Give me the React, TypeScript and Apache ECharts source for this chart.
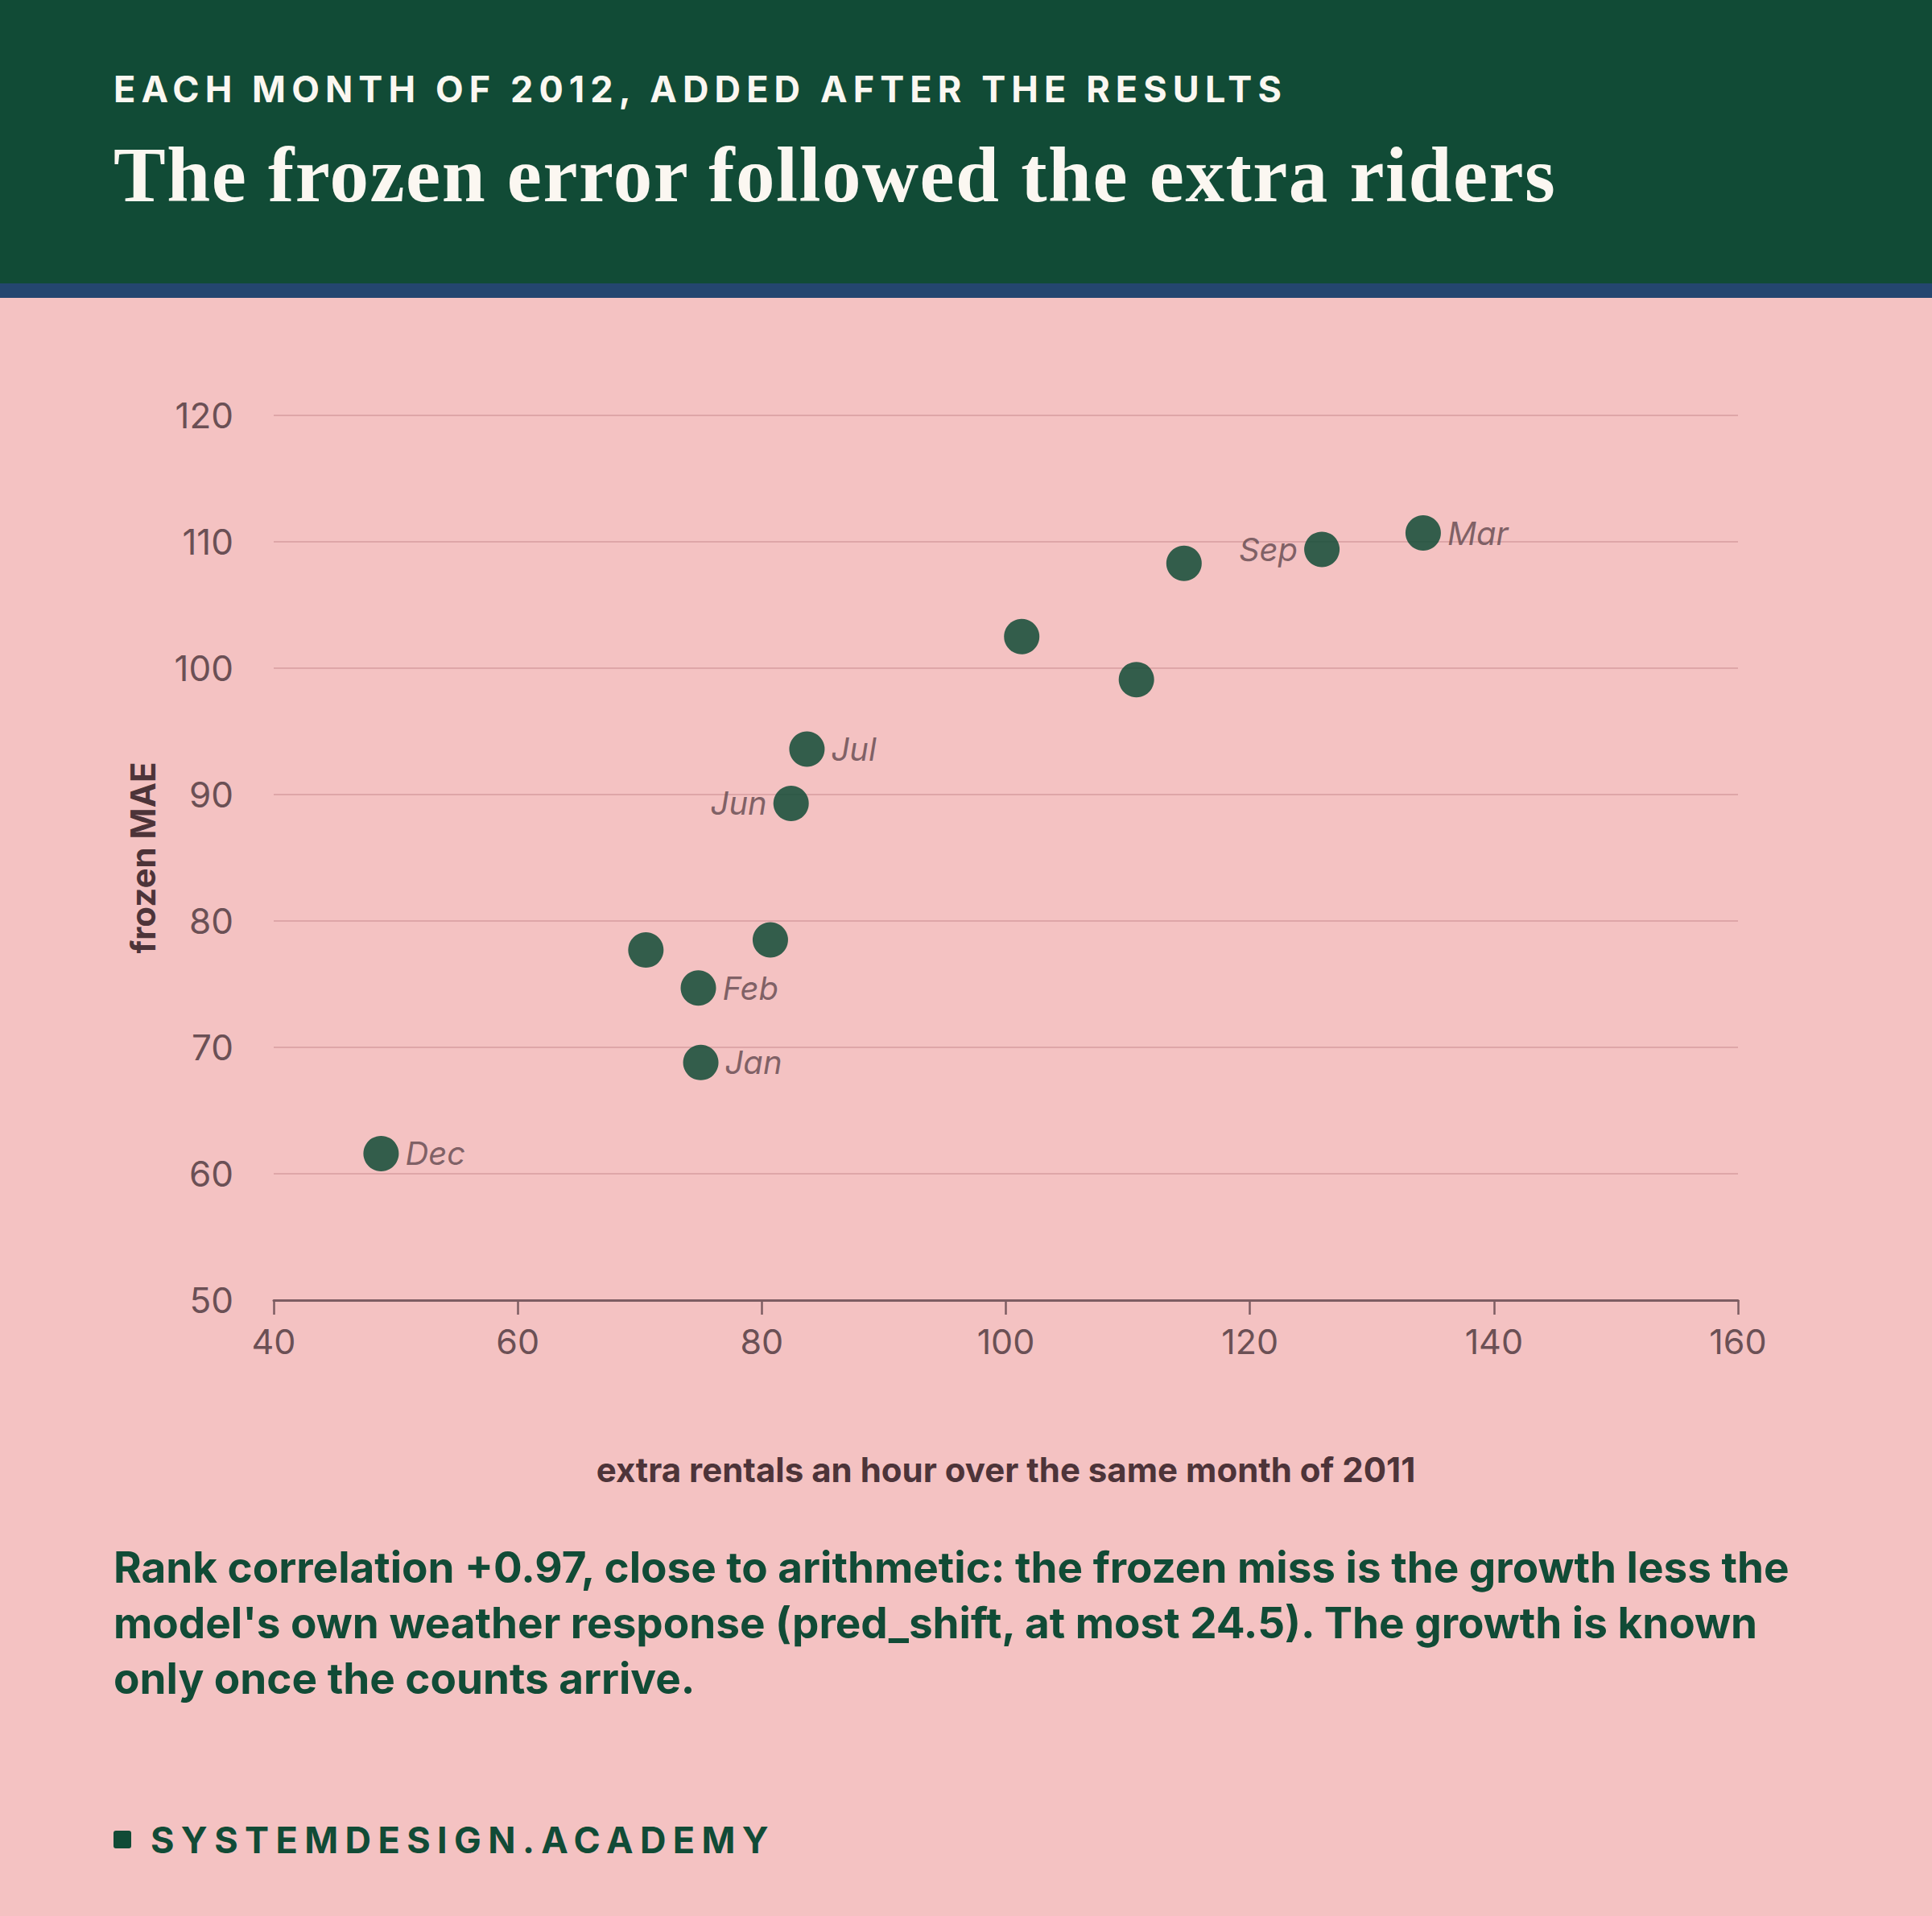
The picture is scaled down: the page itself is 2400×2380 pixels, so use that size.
import { useEffect, useRef } from 'react';
import * as echarts from 'echarts';

// months of 2012, sorted by growth; blank = point drawn without a label
const months = ['Dec', '', 'Feb', 'Jan', '', 'Jun', 'Jul', '', '', '', 'Sep', 'Mar'];
const extraRentals = [48.8, 70.5, 74.8, 75.0, 80.7, 82.4, 83.7, 101.3, 110.7, 114.6, 125.9, 134.2];
const frozenMae = [61.6, 77.7, 74.7, 68.8, 78.5, 89.3, 93.6, 102.5, 99.1, 108.3, 109.4, 110.7];
const leftLabelled = new Set(['Jun', 'Sep']);

const xTicks = { min: 40, max: 160, interval: 20 };
const yTicks = { min: 50, max: 120, interval: 10 };

const kicker = 'EACH MONTH OF 2012, ADDED AFTER THE RESULTS';
const headline = 'The frozen error followed the extra riders';
const noteLines = [
  'Rank correlation +0.97, close to arithmetic: the frozen miss is the growth less the',
  "model's own weather response (pred_shift, at most 24.5). The growth is known",
  'only once the counts arrive.',
];
const brand = 'SYSTEMDESIGN.ACADEMY';

const GREEN = '#114b36';
const PINK = '#f4c2c2';
const INK = '#6b5055';
const DARK_INK = '#4d3439';

function Chart() {
  const ref = useRef<HTMLDivElement>(null);

  useEffect(() => {
    if (!ref.current) return;
    const chart = echarts.init(ref.current, undefined, { renderer: 'svg' });

    const points = extraRentals.map((x, i) => ({
      name: months[i],
      value: [x, frozenMae[i]],
      label: {
        show: months[i] !== '',
        position: leftLabelled.has(months[i]) ? 'left' : 'right',
      },
    }));

    chart.setOption({
      animation: false,
      grid: { left: 340, right: 241, top: 146, bottom: 285 },
      xAxis: {
        type: 'value',
        ...xTicks,
        name: 'extra rentals an hour over the same month of 2011',
        nameLocation: 'middle',
        nameGap: 189,
        nameTextStyle: { fontFamily: 'Inter', fontSize: 42, fontWeight: 'bold', color: DARK_INK },
        axisLine: { show: true, lineStyle: { color: '#7d5d62', width: 3 } },
        axisTick: { show: true, length: 18, lineStyle: { color: '#7d5d62', width: 2.5 } },
        axisLabel: { fontFamily: 'Inter', fontSize: 43, color: INK, margin: 29 },
        splitLine: { show: false },
      },
      yAxis: {
        type: 'value',
        ...yTicks,
        name: 'frozen MAE',
        nameLocation: 'middle',
        nameGap: 142,
        nameTextStyle: { fontFamily: 'Inter', fontSize: 42, fontWeight: 'bold', color: DARK_INK },
        axisLine: { show: false },
        axisTick: { show: false },
        axisLabel: { fontFamily: 'Inter', fontSize: 44, color: INK, margin: 50 },
        splitLine: { lineStyle: { color: '#dea6a8', width: 2 } },
      },
      series: [
        {
          type: 'scatter',
          symbolSize: 44,
          data: points,
          itemStyle: { color: GREEN, opacity: 0.85 },
          label: {
            formatter: '{b}',
            distance: 8,
            fontFamily: 'Inter',
            fontStyle: 'italic',
            fontSize: 40,
            color: INK,
          },
        },
      ],
    });

    return () => chart.dispose();
  }, []);

  return (
    <div
      ref={ref}
      style={{ position: 'absolute', left: 0, top: 370, width: 2400, height: 1530 }}
    />
  );
}

export default function App() {
  useEffect(() => {
    document.body.style.margin = '0';
  }, []);

  return (
    <div
      style={{
        position: 'relative',
        width: 2400,
        height: 2380,
        background: PINK,
        overflow: 'hidden',
        fontFamily: 'Inter, sans-serif',
      }}
    >
      <div
        style={{
          position: 'absolute',
          left: 0,
          top: 0,
          width: 2400,
          height: 352,
          background: GREEN,
          borderBottom: '18px solid #24466f',
        }}
      />
      <div
        style={{
          position: 'absolute',
          left: 141,
          top: 88,
          fontSize: 45,
          lineHeight: '45px',
          fontWeight: 700,
          letterSpacing: 7.1,
          color: '#fbf7f1',
          whiteSpace: 'nowrap',
        }}
      >
        {kicker}
      </div>
      <div
        style={{
          position: 'absolute',
          left: 141,
          top: 169,
          fontFamily: '"Liberation Serif", serif',
          fontSize: 97,
          lineHeight: '97px',
          fontWeight: 700,
          letterSpacing: 1.5,
          color: '#fbf7f1',
          whiteSpace: 'nowrap',
        }}
      >
        {headline}
      </div>

      <Chart />

      <div
        style={{
          position: 'absolute',
          left: 141,
          top: 1913,
          fontSize: 53,
          lineHeight: '69px',
          fontWeight: 700,
          color: GREEN,
          whiteSpace: 'nowrap',
        }}
      >
        {noteLines.map((line, i) => (
          <div key={i}>{line}</div>
        ))}
      </div>

      <div
        style={{
          position: 'absolute',
          left: 141,
          top: 2274,
          width: 22,
          height: 22,
          borderRadius: 3,
          background: GREEN,
        }}
      />
      <div
        style={{
          position: 'absolute',
          left: 187,
          top: 2263,
          fontSize: 45,
          lineHeight: '45px',
          fontWeight: 700,
          letterSpacing: 8.4,
          color: GREEN,
          whiteSpace: 'nowrap',
        }}
      >
        {brand}
      </div>
    </div>
  );
}
